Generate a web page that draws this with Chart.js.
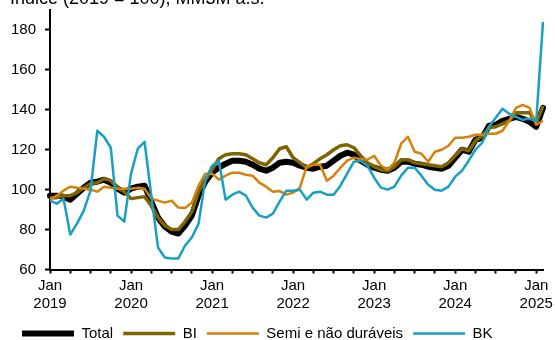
<!DOCTYPE html>
<html>
<head>
<meta charset="utf-8">
<script src="https://cdn.jsdelivr.net/npm/chart.js@4.4.1/dist/chart.umd.min.js"></script>
<style>
  html, body { margin: 0; padding: 0; background: #fff; }
  #wrap { width: 555px; height: 340px; position: relative; }
</style>
</head>
<body>
<div id="wrap"><canvas id="myChart"></canvas></div>
<script>
// monthly, Jan 2019 .. Feb 2025
const months = [];
for (let y = 2019; y <= 2025; y++) {
  for (let m = 1; m <= 12; m++) {
    if (y === 2025 && m > 2) break;
    months.push(y + '-' + String(m).padStart(2, '0'));
  }
}

const total = [97, 97, 96.5, 95, 98, 101, 103.5, 104, 105, 103.5, 100.5, 98.5,
  100.5, 101.5, 102, 94, 86, 81.5, 79, 78, 82, 87, 97, 104,
  108.5, 111, 113, 114.5, 114.5, 114, 112.5, 110.5, 109.5, 111, 113.5, 114,
  113.5, 112, 111, 110.5, 111.5, 112, 114.5, 117, 118.5, 117.5, 114.5, 112.5,
  111, 110, 109.5, 111, 114, 114, 113, 112.5, 111.5, 111, 110.5, 112,
  116, 120, 119, 125, 126, 132, 132.5, 134.5, 135.5, 136.5, 135.5, 134,
  131.5, 141];

const bi = [96, 96, 97, 97, 98.5, 101, 103, 103.5, 105.5, 104.5, 101, 99,
  95.5, 96, 96.5, 92, 86, 82, 80, 80, 84, 89, 99, 105,
  110, 115.5, 117.5, 118, 118, 117.5, 115.5, 113.5, 112.5, 116, 120.5, 121.5,
  116, 113.5, 111, 113, 115.5, 117.5, 120, 122, 122.5, 121, 117, 113.5,
  111.5, 110, 109.5, 111.5, 115, 115, 113.5, 113, 112.5, 112, 111.5, 113.5,
  117, 120.5, 119.5, 124.5, 127, 131, 131.5, 133, 134.5, 138.5, 138.5, 138.5,
  133.5, 142];

const semi = [95, 97, 99.5, 101.5, 101, 100.5, 100, 99, 101.5, 101, 100.5, 100.5,
  100.5, 101, 100.5, 95.5, 94.5, 93.5, 94.5, 91, 90.8, 93.5, 102, 108,
  108, 105, 107, 108.5, 108.5, 107.5, 107, 103.5, 101.5, 99, 99.3, 97.5,
  98.5, 101, 111.5, 112.5, 112.5, 104.5, 107, 111, 114.5, 116, 115.3, 115,
  117, 112, 110, 113.5, 123, 126.5, 119, 118, 114, 119, 120, 122,
  126, 126, 126.5, 127.5, 127.5, 128, 128, 129.5, 134.5, 141, 142.5, 141,
  132.5, 134.5];

const bk = [94.5, 93, 95.5, 77.5, 83, 89.5, 99.5, 129.5, 126.5, 121, 87, 84,
  108, 120.5, 124, 97, 71, 66, 65.5, 65.5, 72, 76, 83, 105,
  112, 114.5, 95, 97.5, 99, 97, 91, 87, 86, 88, 94, 99.5,
  99.5, 100, 95, 98.5, 99, 97.5, 97.5, 102, 108, 114, 114.5, 112,
  106, 101, 100, 101.5, 107, 111, 111, 107, 102.5, 100, 99.5, 101.5,
  106.5, 109.5, 114.5, 120, 123.5, 131.5, 136, 140.5, 138, 136.5, 135, 135.5,
  134.5, 184];

const yTicks = [60, 80, 100, 120, 140, 160, 180];

const FONT = 'Arial, "Liberation Sans", sans-serif';
Chart.defaults.font.family = FONT;
Chart.defaults.font.size = 15;
Chart.defaults.color = '#000';

// partly hidden heading at the very top
const heading = {
  id: 'heading',
  afterDraw(chart) {
    const c = chart.ctx;
    c.save();
    c.font = '18px ' + FONT;
    c.fillStyle = '#000';
    c.textBaseline = 'alphabetic';
    c.fillText('Índice (2019 = 100), MM3M a.s.', 10, 4);
    c.restore();
  }
};

const ctx = document.getElementById('myChart');

new Chart(ctx, {
  type: 'line',
  data: {
    labels: months,
    datasets: [
      { label: 'Total', data: total, borderColor: '#000000', borderWidth: 6, borderCapStyle: 'round', order: 3 },
      { label: 'BI', data: bi, borderColor: '#7F6500', borderWidth: 3.5, order: 2 },
      { label: 'Semi e não duráveis', data: semi, borderColor: '#D4820A', borderWidth: 2.5, order: 1 },
      { label: 'BK', data: bk, borderColor: '#18A0C4', borderWidth: 2.5, order: 0 }
    ]
  },
  options: {
    responsive: true,
    maintainAspectRatio: false,
    animation: false,
    elements: {
      point: { radius: 0 },
      line: { tension: 0, borderJoinStyle: 'round' }
    },
    layout: { padding: { top: 10, right: 12, left: 12, bottom: -11 } },
    plugins: {
      tooltip: { enabled: false },
      legend: {
        position: 'bottom',
        align: 'start',
        labels: {
          usePointStyle: true,
          pointStyle: 'line',
          pointStyleWidth: 52,
          padding: 10,
          font: { size: 15 },
          sort: (a, b) => a.datasetIndex - b.datasetIndex
        }
      }
    },
    scales: {
      x: {
        type: 'category',
        offset: false,
        border: { color: '#000', width: 2 },
        grid: {
          drawOnChartArea: false,
          tickLength: 4,
          tickWidth: 2,
          color: c => (c.index % 3 === 0 ? '#000' : 'rgba(0,0,0,0)'),
          tickColor: c => (c.index % 3 === 0 ? '#000' : 'rgba(0,0,0,0)')
        },
        ticks: {
          autoSkip: false,
          maxRotation: 0,
          padding: 4,
          font: { size: 15, lineHeight: 1.15 },
          callback: function (value, index) {
            const lab = months[index];
            if (lab.slice(5) === '01') return ['Jan', lab.slice(0, 4)];
            return '';
          }
        }
      },
      y: {
        min: 60,
        max: 190,
        border: { color: '#000', width: 2 },
        afterBuildTicks: scale => { scale.ticks = yTicks.map(v => ({ value: v })); },
        afterFit: scale => {
          scale.width = 38;
          scale.paddingTop = 0;
          scale.paddingBottom = 0;
        },
        grid: {
          drawOnChartArea: false,
          tickLength: 5,
          tickWidth: 2,
          color: '#000'
        },
        ticks: { padding: 9, font: { size: 15 } }
      }
    }
  },
  plugins: [heading]
});
</script>
</body>
</html>
